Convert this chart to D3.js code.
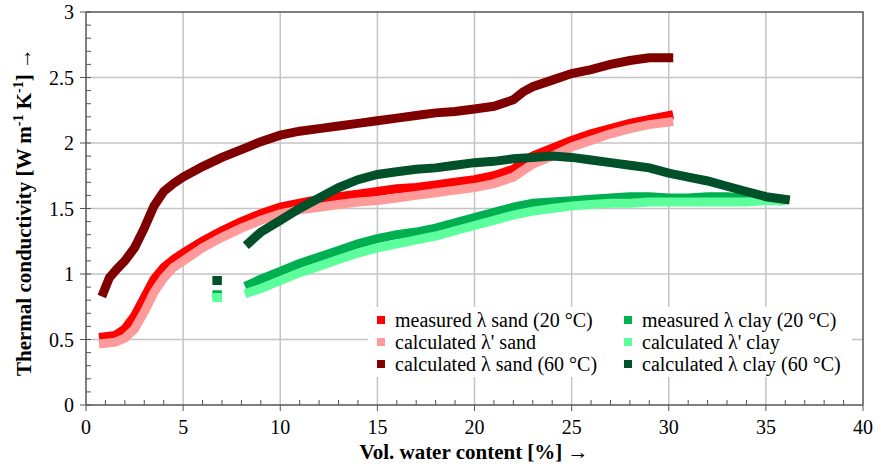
<!DOCTYPE html>
<html>
<head>
<meta charset="utf-8">
<script src="https://cdn.jsdelivr.net/npm/d3@7"></script>
<style>
  body { margin: 0; background: #fff; }
</style>
</head>
<body>
<div id="chart"></div>
<script>
// x axis: vol. water content [%], y axis: thermal conductivity
var xTicks = [0, 5, 10, 15, 20, 25, 30, 35, 40];
var yTicks = [0, 0.5, 1, 1.5, 2, 2.5, 3];

// measured lambda sand (20 C)
var sandMeasured = [[0.9,0.52],[1.5,0.53],[2,0.58],[2.5,0.68],[3,0.82],[3.5,0.96],[4,1.05],[4.5,1.11],
  [5,1.16],[6,1.25],[7,1.33],[8,1.40],[9,1.46],[10,1.51],[11,1.54],[12,1.57],[13,1.59],[14,1.61],
  [15,1.63],[16,1.65],[17,1.66],[18,1.68],[19,1.70],[20,1.72],[21,1.75],[22,1.80],[23,1.90],
  [24,1.96],[25,2.02],[26,2.07],[27,2.11],[28,2.15],[29,2.18],[30,2.21]];
// calculated lambda' sand
var sandCalcPrime = [[0.9,0.47],[1.5,0.48],[2,0.51],[2.5,0.58],[3,0.71],[3.5,0.86],[4,0.97],[4.5,1.05],
  [5,1.10],[6,1.20],[7,1.28],[8,1.35],[9,1.41],[10,1.46],[11,1.49],[12,1.51],[13,1.53],[14,1.55],
  [15,1.56],[16,1.58],[17,1.60],[18,1.62],[19,1.64],[20,1.66],[21,1.69],[22,1.74],[23,1.84],
  [24,1.90],[25,1.97],[26,2.02],[27,2.07],[28,2.11],[29,2.14],[30,2.16]];
// calculated lambda sand (60 C)
var sandCalc60 = [[0.9,0.86],[1.2,0.97],[1.6,1.04],[2,1.10],[2.5,1.20],[3,1.35],[3.5,1.52],[4,1.63],
  [4.5,1.69],[5,1.74],[6,1.82],[7,1.89],[8,1.95],[9,2.01],[10,2.06],[11,2.09],[12,2.11],[13,2.13],
  [14,2.15],[15,2.17],[16,2.19],[17,2.21],[18,2.23],[19,2.24],[20,2.26],[21,2.28],[22,2.33],
  [22.5,2.39],[23,2.43],[24,2.48],[25,2.53],[26,2.56],[27,2.60],[28,2.63],[29,2.65],[30,2.65]];
// measured lambda clay (20 C)
var clayMeasured = [[6.75,0.84],null,[8.4,0.92],[9,0.96],[10,1.02],[11,1.08],[12,1.13],[13,1.18],
  [14,1.23],[15,1.27],[16,1.30],[17,1.32],[18,1.35],[19,1.39],[20,1.43],[21,1.47],[22,1.51],
  [23,1.54],[24,1.55],[25,1.56],[26,1.57],[27,1.58],[28,1.59],[29,1.59],[30,1.58],[31,1.58],
  [32,1.59],[33,1.59],[34,1.58],[35,1.57],[35.6,1.56]];
// calculated lambda' clay
var clayCalcPrime = [[6.75,0.82],null,[8.4,0.86],[9,0.89],[10,0.95],[11,1.01],[12,1.06],[13,1.11],
  [14,1.16],[15,1.20],[16,1.23],[17,1.26],[18,1.29],[19,1.33],[20,1.37],[21,1.41],[22,1.45],
  [23,1.48],[24,1.50],[25,1.52],[26,1.53],[27,1.54],[28,1.54],[29,1.55],[30,1.55],[31,1.55],
  [32,1.55],[33,1.55],[34,1.55],[35,1.56],[35.8,1.56]];
// calculated lambda clay (60 C)
var clayCalc60 = [[6.75,0.95],null,[8.4,1.24],[9,1.32],[10,1.41],[11,1.50],[12,1.58],[13,1.66],
  [14,1.72],[15,1.76],[16,1.78],[17,1.80],[18,1.81],[19,1.83],[20,1.85],[21,1.86],[22,1.88],
  [23,1.89],[24,1.90],[25,1.89],[26,1.87],[27,1.85],[28,1.83],[29,1.81],[30,1.77],[31,1.74],
  [32,1.71],[33,1.67],[34,1.63],[35,1.59],[36,1.57]];

var seriesNames = ["measured \u03bb sand (20 \u00b0C)", "calculated \u03bb' sand", "calculated \u03bb sand (60 \u00b0C)",
  "measured \u03bb clay (20 \u00b0C)", "calculated \u03bb' clay", "calculated \u03bb clay (60 \u00b0C)"];
var seriesData = [sandMeasured, sandCalcPrime, sandCalc60, clayMeasured, clayCalcPrime, clayCalc60];
var seriesColors = ["#ff0000", "#ff9a9a", "#800000", "#00b050", "#5cff9c", "#00502a"];

var serif = "'Liberation Serif', 'DejaVu Serif', 'Times New Roman', serif";
var width = 888, height = 468;
var plot = {left: 86, right: 863, top: 12, bottom: 405};

var svg = d3.select("#chart").append("svg")
  .attr("width", width)
  .attr("height", height)
  .attr("font-family", serif);

var x = d3.scaleLinear().domain([0, 40]).range([plot.left, plot.right]);
var y = d3.scaleLinear().domain([0, 3]).range([plot.bottom, plot.top]);

// grid lines
svg.append("g").selectAll("line")
  .data(xTicks.slice(1, -1))
  .enter().append("line")
  .attr("x1", function(d) { return x(d); })
  .attr("x2", function(d) { return x(d); })
  .attr("y1", plot.top)
  .attr("y2", plot.bottom)
  .attr("stroke", "#c4c4c4")
  .attr("stroke-width", 1.5);

svg.append("g").selectAll("line")
  .data(yTicks.slice(1, -1))
  .enter().append("line")
  .attr("x1", plot.left)
  .attr("x2", plot.right)
  .attr("y1", function(d) { return y(d); })
  .attr("y2", function(d) { return y(d); })
  .attr("stroke", "#c4c4c4")
  .attr("stroke-width", 1.5);

// top and right border
svg.append("path")
  .attr("d", "M" + plot.left + "," + plot.top + "H" + plot.right + "V" + plot.bottom)
  .attr("fill", "none")
  .attr("stroke", "#555")
  .attr("stroke-width", 1.5);

// series
var line = d3.line()
  .defined(function(d) { return d != null; })
  .x(function(d) { return x(d[0]); })
  .y(function(d) { return y(d[1]); });

seriesData.forEach(function(data, i) {
  svg.append("path")
    .datum(data)
    .attr("d", line)
    .attr("fill", "none")
    .attr("stroke", seriesColors[i])
    .attr("stroke-width", 9)
    .attr("stroke-linecap", "square")
    .attr("stroke-linejoin", "miter");

  // single points that are not part of a line segment
  var lone = data.filter(function(d, j) {
    return d != null && (j == 0 || data[j - 1] == null) && (j == data.length - 1 || data[j + 1] == null);
  });
  svg.append("g").selectAll("rect")
    .data(lone)
    .enter().append("rect")
    .attr("x", function(d) { return x(d[0]) - 4.5; })
    .attr("y", function(d) { return y(d[1]) - 4.5; })
    .attr("width", 9)
    .attr("height", 9)
    .attr("fill", seriesColors[i]);
});

// axes
var xAxis = svg.append("g")
  .attr("transform", "translate(0," + plot.bottom + ")");
xAxis.append("line")
  .attr("x1", plot.left).attr("x2", plot.right)
  .attr("stroke", "#555").attr("stroke-width", 1.5);
xAxis.selectAll(".minor")
  .data(d3.range(0, 41, 1))
  .enter().append("line")
  .attr("x1", function(d) { return x(d); })
  .attr("x2", function(d) { return x(d); })
  .attr("y1", 0)
  .attr("y2", function(d) { return d % 5 == 0 ? 6 : -5; })
  .attr("stroke", "#555");
xAxis.selectAll("text")
  .data(xTicks)
  .enter().append("text")
  .attr("x", function(d) { return x(d); })
  .attr("y", 29)
  .attr("text-anchor", "middle")
  .attr("font-family", serif)
  .style("font-size", "20px")
  .text(function(d) { return d; });

var yAxis = svg.append("g")
  .attr("transform", "translate(" + plot.left + ",0)");
yAxis.append("line")
  .attr("y1", plot.top).attr("y2", plot.bottom)
  .attr("stroke", "#555").attr("stroke-width", 1.5);
yAxis.selectAll(".minor")
  .data(d3.range(0, 31, 1))
  .enter().append("line")
  .attr("y1", function(d) { return y(d / 10); })
  .attr("y2", function(d) { return y(d / 10); })
  .attr("x1", function(d) { return d % 5 == 0 ? -6 : 0; })
  .attr("x2", 5)
  .attr("stroke", "#555");
yAxis.selectAll("text")
  .data(yTicks)
  .enter().append("text")
  .attr("x", -12)
  .attr("y", function(d) { return y(d); })
  .attr("dy", "0.35em")
  .attr("text-anchor", "end")
  .attr("font-family", serif)
  .style("font-size", "20px")
  .text(function(d) { return d; });

// axis titles
svg.append("text")
  .attr("x", 474)
  .attr("y", 459)
  .attr("text-anchor", "middle")
  .attr("font-family", serif)
  .style("font-size", "21px")
  .style("font-weight", "bold")
  .text("Vol. water content [%] \u2192");

var yTitle = svg.append("text")
  .attr("transform", "translate(31,212) rotate(-90)")
  .attr("text-anchor", "middle")
  .attr("font-family", serif)
  .style("font-size", "21px")
  .style("font-weight", "bold");
yTitle.append("tspan").text("Thermal conductivity [W m");
yTitle.append("tspan").attr("dy", -8).style("font-size", "14px").text("-1");
yTitle.append("tspan").attr("dy", 8).text(" K");
yTitle.append("tspan").attr("dy", -8).style("font-size", "14px").text("-1");
yTitle.append("tspan").attr("dy", 8).text("] \u2192");

// legend
var legend = svg.append("g");
legend.append("rect")
  .attr("x", 368).attr("y", 307)
  .attr("width", 484).attr("height", 70)
  .attr("fill", "#fff");

var items = legend.selectAll(".item")
  .data(seriesNames)
  .enter().append("g")
  .attr("transform", function(d, i) {
    return "translate(" + (i < 3 ? 381 : 628) + "," + (320 + (i % 3) * 22) + ")";
  });
items.append("rect")
  .attr("x", -4).attr("y", -4)
  .attr("width", 8).attr("height", 8)
  .attr("fill", function(d, i) { return seriesColors[i]; });
items.append("text")
  .attr("x", 14)
  .attr("dy", "0.35em")
  .attr("font-family", serif)
  .style("font-size", "20px")
  .text(function(d) { return d; });
</script>
</body>
</html>
